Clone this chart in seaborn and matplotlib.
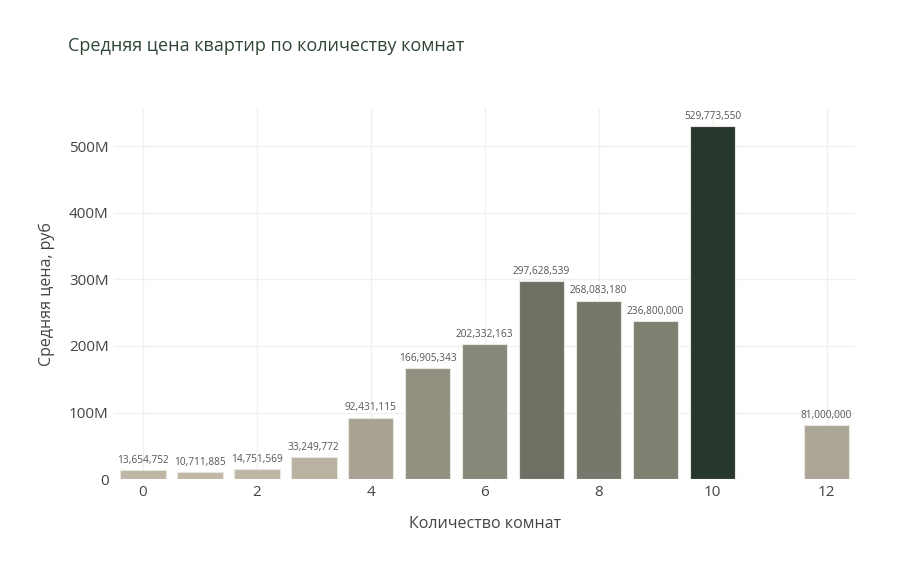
import matplotlib
matplotlib.use("Agg")
import matplotlib.pyplot as plt
import matplotlib.colors as mcolors
import seaborn as sns
import pandas as pd

# data
rooms = [0, 1, 2, 3, 4, 5, 6, 7, 8, 9, 10, 12]
avg_price = [13654752, 10711885, 14751569, 33249772, 92431115, 166905343,
             202332163, 297628539, 268083180, 236800000, 529773550, 81000000]
x_ticks = [0, 2, 4, 6, 8, 10, 12]
y_ticks = [0, 100e6, 200e6, 300e6, 400e6, 500e6]
y_tick_labels = ['0', '100M', '200M', '300M', '400M', '500M']

df = pd.DataFrame({'rooms': rooms, 'price': avg_price})

# colour by value, beige -> dark green
cmap = mcolors.LinearSegmentedColormap.from_list('beige_green', ['#C4B9A2', '#263B2D'])
norm = mcolors.Normalize(vmin=min(avg_price), vmax=max(avg_price))
pal = {r: cmap(norm(p)) for r, p in zip(rooms, avg_price)}

sns.set_style('white')
plt.rcParams['font.family'] = ['Open Sans', 'DejaVu Sans']

fig = plt.figure(figsize=(9, 5.61), dpi=100)
ax = fig.add_axes([0.127, 0.146, 0.823, 0.661])

sns.barplot(data=df, x='rooms', y='price', hue='rooms', palette=pal,
            native_scale=True, dodge=False, legend=False, width=0.8,
            edgecolor='#E8E6E0', linewidth=0.8, ax=ax, zorder=3)

for cont in ax.containers:
    ax.bar_label(cont, labels=[f'{v:,.0f}' for v in cont.datavalues],
                 padding=3, fontsize=7.3, color='#555555')

ax.set_xlim(-0.5, 12.5)
ax.set_ylim(0, 557e6)
ax.set_xticks(x_ticks)
ax.set_xticklabels([str(t) for t in x_ticks])
ax.set_yticks(y_ticks)
ax.set_yticklabels(y_tick_labels)
ax.tick_params(axis='both', length=0, labelsize=11, colors='#444444', pad=4)
ax.grid(True, color='#F2F0EB', linewidth=1, zorder=0)
for s in ax.spines.values():
    s.set_visible(False)

ax.set_xlabel('Количество комнат', fontsize=11.5, color='#444444', labelpad=12)
ax.set_ylabel('Средняя цена, руб', fontsize=11.5, color='#444444', labelpad=10)
fig.text(0.075, 0.918, 'Средняя цена квартир по количеству комнат',
         fontsize=13, color='#2F4535', ha='left', va='center')

fig.savefig('out.png', dpi=100, facecolor='white')
